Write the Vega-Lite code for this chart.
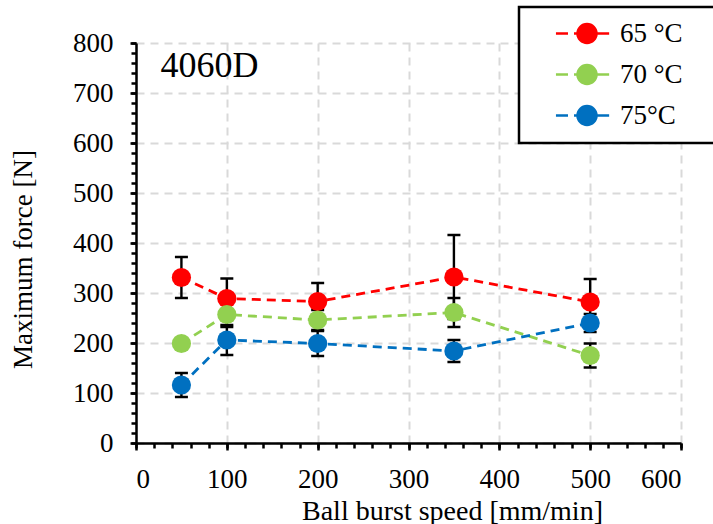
{
  "$schema": "https://vega.github.io/schema/vega-lite/v6.json",
  "width": 545,
  "height": 400,
  "autosize": {"type": "none"},
  "padding": {"left": 136, "top": 43, "right": 32, "bottom": 81},
  "background": "white",
  "config": {"view": {"stroke": null}, "font": "Liberation Serif"},
  "data": {
    "values": [
      {"temp": "65 °C", "speed": 50, "force": 331, "lo": 290, "hi": 372},
      {"temp": "65 °C", "speed": 100, "force": 289, "lo": 250, "hi": 329},
      {"temp": "65 °C", "speed": 200, "force": 283, "lo": 247, "hi": 320},
      {"temp": "65 °C", "speed": 350, "force": 332, "lo": 248, "hi": 416},
      {"temp": "65 °C", "speed": 500, "force": 282, "lo": 236, "hi": 328},
      {"temp": "70 °C", "speed": 50, "force": 199, "lo": 192, "hi": 206},
      {"temp": "70 °C", "speed": 100, "force": 257, "lo": 232, "hi": 282},
      {"temp": "70 °C", "speed": 200, "force": 246, "lo": 226, "hi": 266},
      {"temp": "70 °C", "speed": 350, "force": 261, "lo": 232, "hi": 290},
      {"temp": "70 °C", "speed": 500, "force": 175, "lo": 151, "hi": 199},
      {"temp": "75°C", "speed": 50, "force": 116, "lo": 92, "hi": 140},
      {"temp": "75°C", "speed": 100, "force": 206, "lo": 176, "hi": 236},
      {"temp": "75°C", "speed": 200, "force": 199, "lo": 174, "hi": 224},
      {"temp": "75°C", "speed": 350, "force": 184, "lo": 162, "hi": 206},
      {"temp": "75°C", "speed": 500, "force": 240, "lo": 222, "hi": 258}
    ]
  },
  "layer": [
    {
      "layer": [
        {
          "mark": {"type": "rule", "color": "black", "strokeWidth": 2.4},
          "encoding": {
            "x": {"field": "speed", "type": "quantitative"},
            "y": {"field": "lo", "type": "quantitative"},
            "y2": {"field": "hi"}
          }
        },
        {
          "mark": {"type": "tick", "color": "black", "orient": "horizontal", "size": 13, "thickness": 2.5, "opacity": 1},
          "encoding": {
            "x": {"field": "speed", "type": "quantitative"},
            "y": {"field": "hi", "type": "quantitative"}
          }
        },
        {
          "mark": {"type": "tick", "color": "black", "orient": "horizontal", "size": 13, "thickness": 2.5, "opacity": 1},
          "encoding": {
            "x": {"field": "speed", "type": "quantitative"},
            "y": {"field": "lo", "type": "quantitative"}
          }
        },
        {
          "mark": {"type": "line", "strokeDash": [9, 6], "strokeWidth": 2.8},
          "encoding": {
            "x": {"field": "speed", "type": "quantitative"},
            "y": {"field": "force", "type": "quantitative"},
            "color": {"field": "temp", "type": "nominal",
              "scale": {"domain": ["65 °C", "70 °C", "75°C"], "range": ["#FF0000", "#92D050", "#0070C0"]}}
          }
        },
        {
          "mark": {"type": "point", "filled": true, "size": 370, "opacity": 1},
          "encoding": {
            "x": {"field": "speed", "type": "quantitative",
              "scale": {"domain": [0, 600], "nice": false},
              "axis": {"orient": "bottom", "values": [0, 100, 200, 300, 400, 500, 600], "title": "Ball burst speed [mm/min]",
                "domain": true, "domainColor": "black", "domainWidth": 2.5,
                "ticks": true, "tickColor": "black", "tickSize": 7, "tickWidth": 2.5,
                "labelFont": "Liberation Serif", "labelFontSize": 27, "labelColor": "black", "labelPadding": 16,
                "grid": true, "gridColor": "#d9d9d9", "gridDash": [8, 6], "gridWidth": 2,
                "titleFont": "Liberation Serif", "titleFontSize": 28, "titleFontWeight": "normal", "titleColor": "black",
                "titleX": 316, "titleY": 54, "titleAlign": "center", "titleBaseline": "top"}},
            "y": {"field": "force", "type": "quantitative",
              "scale": {"domain": [0, 800], "nice": false},
              "axis": {"orient": "left", "values": [0, 100, 200, 300, 400, 500, 600, 700, 800], "title": "Maximum force [N]",
                "domain": true, "domainColor": "black", "domainWidth": 2.5,
                "ticks": true, "tickColor": "black", "tickSize": 6, "tickWidth": 2.5,
                "labelFont": "Liberation Serif", "labelFontSize": 27, "labelColor": "black", "labelPadding": 17,
                "grid": true, "gridColor": "#d9d9d9", "gridDash": [8, 6], "gridWidth": 2,
                "titleFont": "Liberation Serif", "titleFontSize": 27, "titleFontWeight": "normal", "titleColor": "black",
                "titleX": -99, "titleY": 216, "titleAlign": "center", "titleBaseline": "bottom", "titleAngle": -90}},
            "color": {"field": "temp", "type": "nominal",
              "scale": {"domain": ["65 °C", "70 °C", "75°C"], "range": ["#FF0000", "#92D050", "#0070C0"]},
              "legend": {"title": null, "orient": "none", "legendX": 383, "legendY": -36,
                "symbolType": "M 1.1 0 L 2.37 0 M 3.0 0 L 6.7 0 M 5.37 0 A 1 1 0 1 1 3.37 0 A 1 1 0 1 1 5.37 0 Z",
                "symbolSize": 361, "symbolStrokeWidth": 2.5, "symbolOpacity": 1,
                "labelFont": "Liberation Serif", "labelFontSize": 27, "labelColor": "black", "labelOffset": 61,
                "labelExpr": "datum.label + '\u2800'",
                "padding": 13, "rowPadding": 12,
                "strokeColor": "black", "fillColor": "white",
                "encode": {
                  "legend": {"update": {"stroke": {"value": "black"}, "strokeWidth": {"value": 2.5}}},
                  "symbols": {"update": {"stroke": {"scale": "color", "field": "value"}, "fill": {"scale": "color", "field": "value"}, "strokeDash": {"value": []}}}}}}
          }
        },
        {
          "data": {"values": [{"speed": 27, "force": 732, "label": "4060D"}]},
          "mark": {"type": "text", "font": "Liberation Serif", "fontSize": 36, "align": "left", "baseline": "alphabetic", "color": "black"},
          "encoding": {
            "x": {"field": "speed", "type": "quantitative"},
            "y": {"field": "force", "type": "quantitative"},
            "text": {"field": "label"}
          }
        }
      ]
    },
    {
      "mark": {"type": "point", "opacity": 0},
      "encoding": {
        "x": {"field": "speed", "type": "quantitative",
          "axis": {"orient": "bottom", "values": [0,20,40,60,80,100,120,140,160,180,200,220,240,260,280,300,320,340,360,380,400,420,440,460,480,500,520,540,560,580,600],
            "labels": false, "title": null, "grid": false, "domain": false, "ticks": true, "tickColor": "black", "tickSize": 5, "tickWidth": 2.5}},
        "y": {"field": "force", "type": "quantitative",
          "axis": {"orient": "left", "values": [0,20,40,60,80,100,120,140,160,180,200,220,240,260,280,300,320,340,360,380,400,420,440,460,480,500,520,540,560,580,600,620,640,660,680,700,720,740,760,780,800],
            "labels": false, "title": null, "grid": false, "domain": false, "ticks": true, "tickColor": "black", "tickSize": 5, "tickWidth": 2.5}}
      }
    }
  ],
  "resolve": {"axis": {"x": "independent", "y": "independent"}}
}
